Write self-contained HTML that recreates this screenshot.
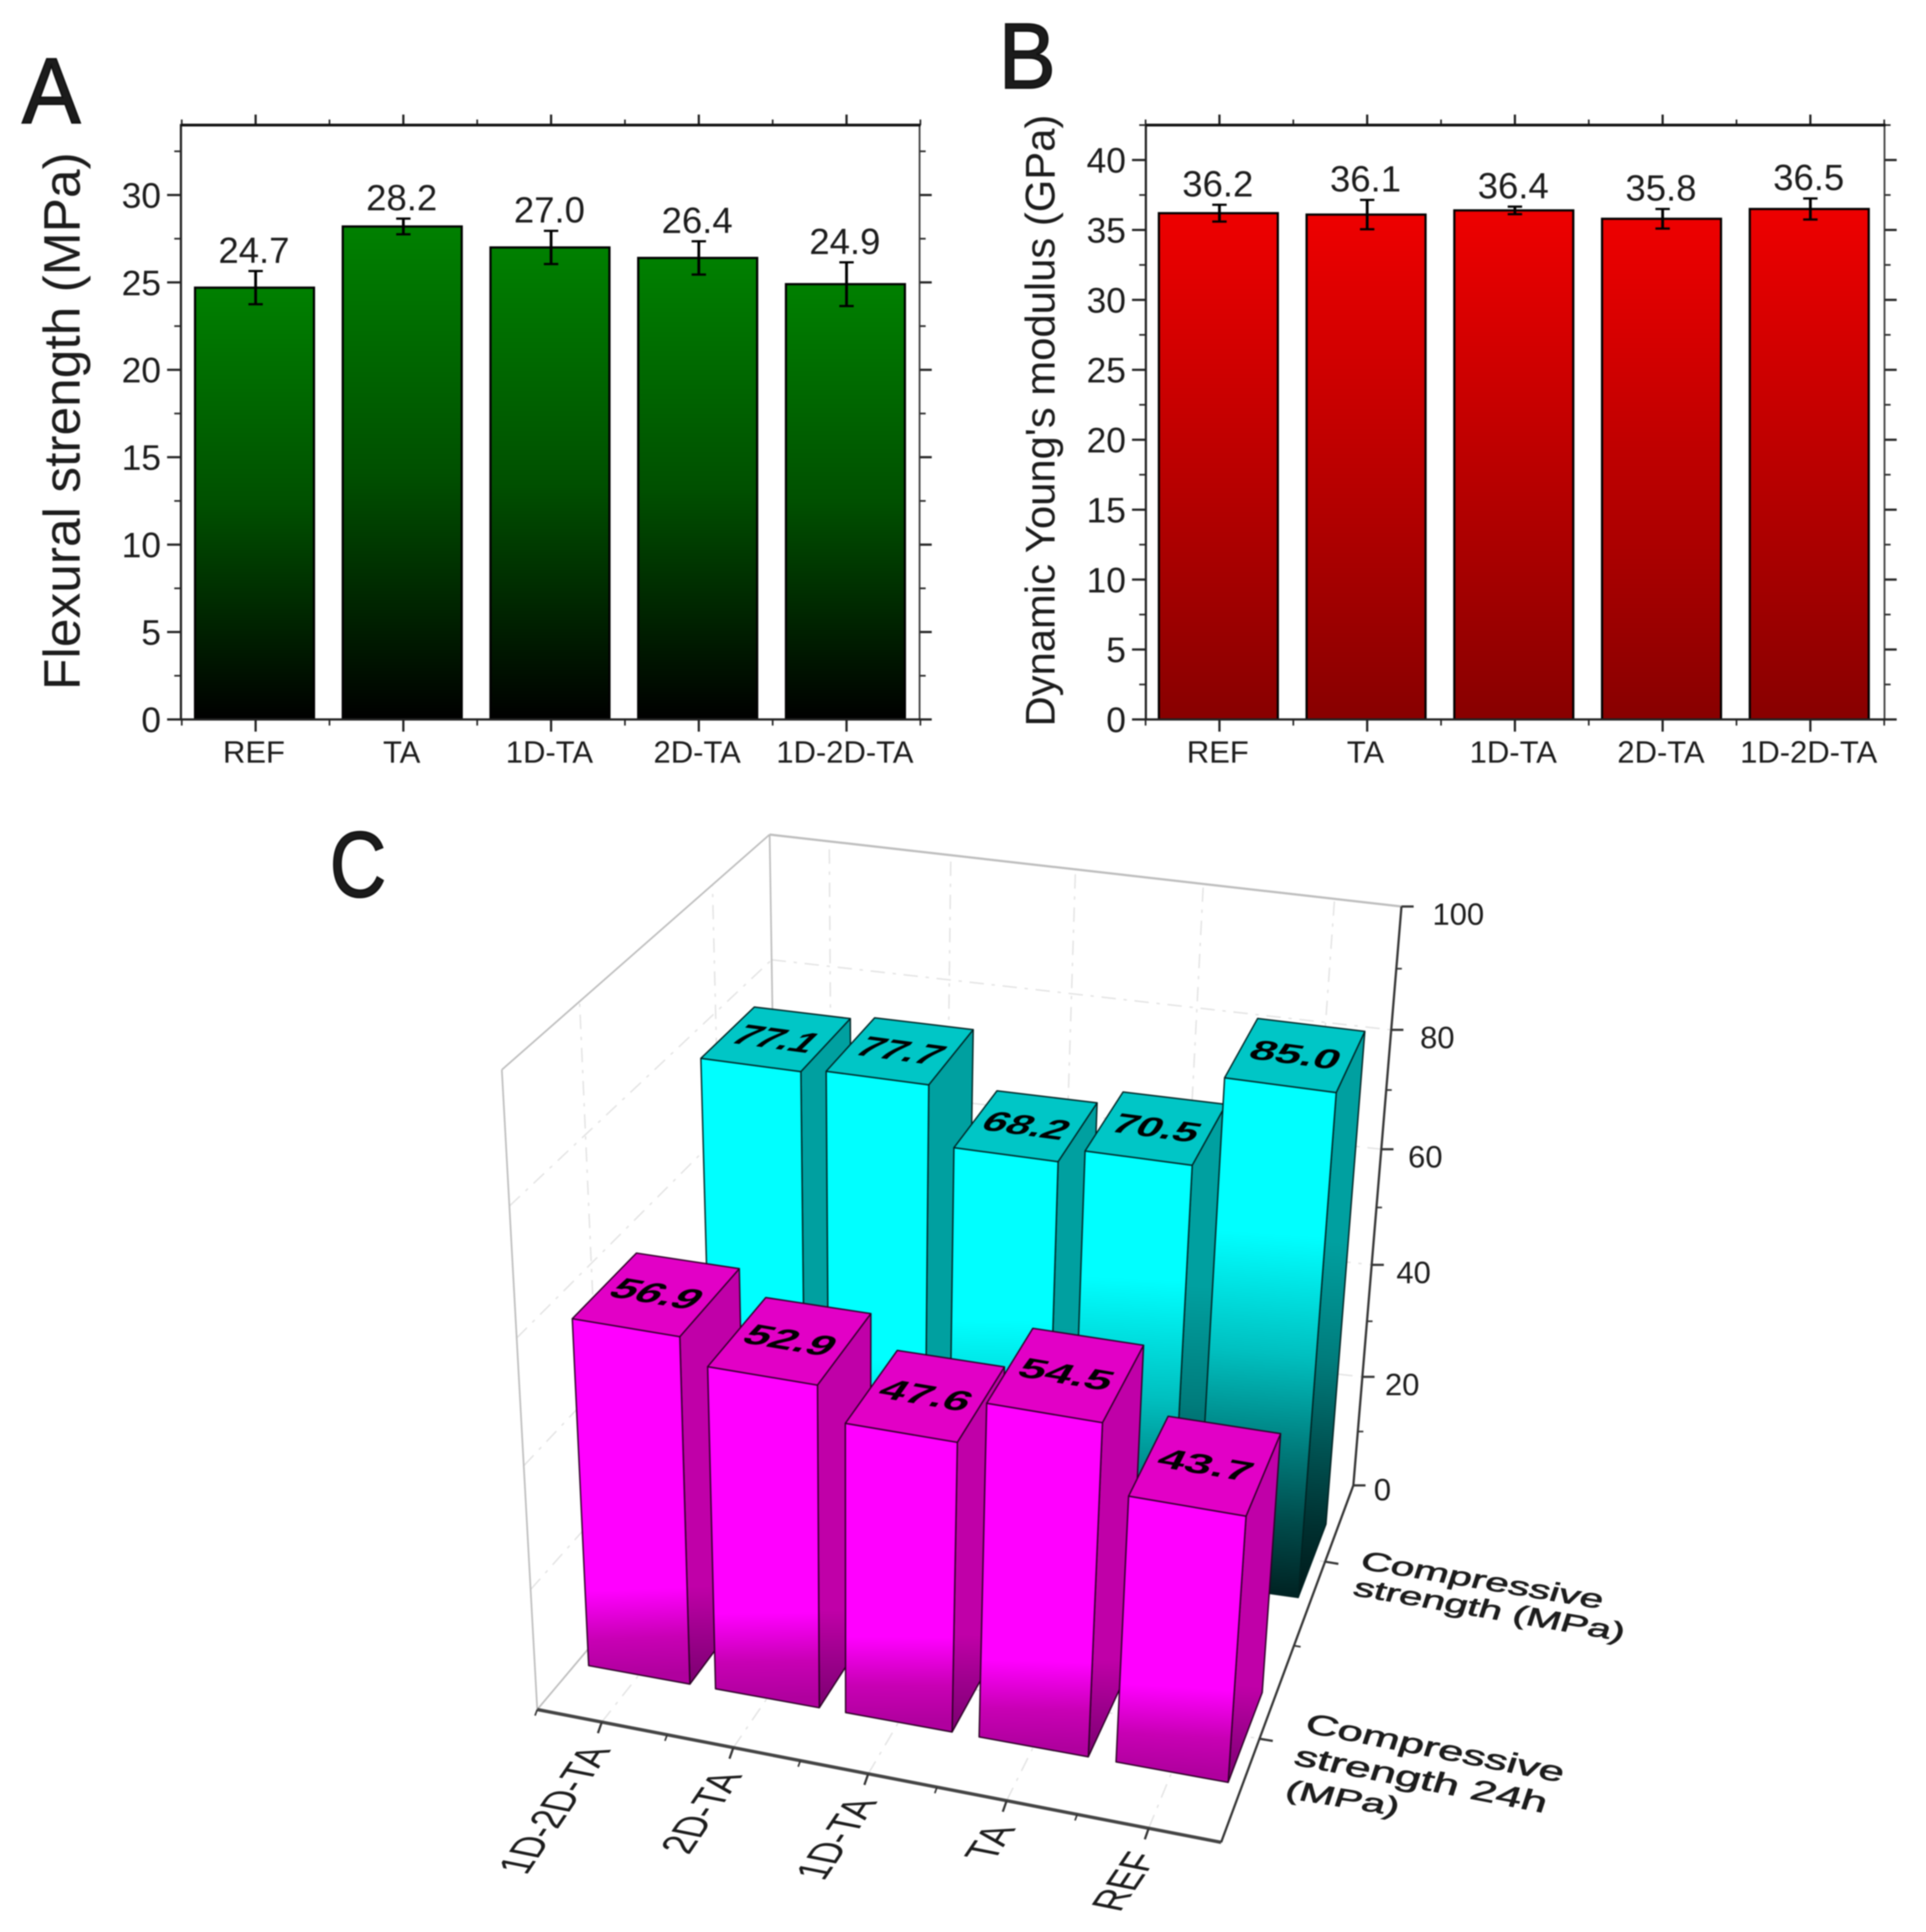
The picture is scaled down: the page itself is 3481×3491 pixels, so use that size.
<!DOCTYPE html>
<html lang="en">
<head>
<meta charset="utf-8">
<title>Flexural strength, dynamic modulus and compressive strength charts</title>
<style>
html,body{margin:0;padding:0;background:#fff;}
svg{display:block;filter:blur(1px);}
text{font-family:"Liberation Sans",sans-serif;fill:#1c1c1c;}
</style>
</head>
<body>
<svg id="figure" xmlns="http://www.w3.org/2000/svg" width="3481" height="3491" viewBox="0 0 3481 3491">
  <defs>
    <linearGradient id="green-grad" x1="0" y1="0" x2="0" y2="1">
      <stop offset="0" stop-color="#008000"/><stop offset="0.5" stop-color="#005000"/><stop offset="1" stop-color="#000000"/>
    </linearGradient>
    <linearGradient id="red-grad" x1="0" y1="0" x2="0" y2="1">
      <stop offset="0" stop-color="#ee0000"/><stop offset="1" stop-color="#880000"/>
    </linearGradient>
  </defs>
  <rect width="3481" height="3491" fill="#ffffff"/>
  <text transform="translate(40,222) scale(0.94,1)" font-size="168" stroke="#111" stroke-width="3">A</text>
  <text transform="translate(1805,159) scale(0.92,1)" font-size="168" stroke="#111" stroke-width="3">B</text>
  <text transform="translate(596,1620) scale(0.84,1)" font-size="168" stroke="#111" stroke-width="3">C</text>
  <g id="panel-a"></g>
  <g id="panel-b"></g>
  <g id="panel-c"></g>
</svg>
<script>
const categories = ['REF', 'TA', '1D-TA', '2D-TA', '1D-2D-TA'];
const flexuralValues = [24.7, 28.2, 27.0, 26.4, 24.9];
const flexuralErrors = [0.95, 0.45, 0.95, 0.95, 1.25];
const flexuralTicks = [0, 5, 10, 15, 20, 25, 30];
const modulusValues = [36.2, 36.1, 36.4, 35.8, 36.5];
const modulusErrors = [0.6, 1.05, 0.27, 0.7, 0.75];
const modulusTicks = [0, 5, 10, 15, 20, 25, 30, 35, 40];

const categories3d = ['1D-2D-TA', '2D-TA', '1D-TA', 'TA', 'REF'];
const compressive24h = [56.9, 52.9, 47.6, 54.5, 43.7];
const compressive = [77.1, 77.7, 68.2, 70.5, 85.0];
const zTicks = [0, 20, 40, 60, 80, 100];

const NS = 'http://www.w3.org/2000/svg';
function mk(tag, parent, attrs) {
  const e = document.createElementNS(NS, tag);
  for (const k in attrs) e.setAttribute(k, attrs[k]);
  parent.appendChild(e);
  return e;
}
function ln(parent, x1, y1, x2, y2, stroke, w, extra) {
  return mk('line', parent, Object.assign({x1, y1, x2, y2, stroke, 'stroke-width': w}, extra || {}));
}
function tx(parent, s, x, y, size, anchor, extra) {
  const e = mk('text', parent, Object.assign({x, y, 'font-size': size, 'text-anchor': anchor || 'start'}, extra || {}));
  e.textContent = s;
  return e;
}

/* ---------- 2D bar panels ---------- */
function drawPanel(cfg) {
  const g = document.getElementById(cfg.root);
  const yOf = v => cfg.bottom - (v / cfg.ymax) * (cfg.bottom - cfg.top);
  const xOf = i => cfg.x0 + cfg.step * i;

  cfg.categories.forEach((c, i) => {
    const cx = xOf(i) - 2;
    const bar = mk('rect', g, {x: cx - cfg.barW / 2, y: yOf(cfg.values[i]), width: cfg.barW, height: cfg.bottom - yOf(cfg.values[i]), fill: cfg.fill, stroke: '#000', 'stroke-width': 4});
    
    

    const hi = yOf(cfg.values[i] + cfg.errors[i]);
    const lo = yOf(cfg.values[i] - cfg.errors[i]);
    const stem = ln(g, xOf(i), hi, xOf(i), lo, '#000', 5);
    
    
    const capT = ln(g, xOf(i) - 13, hi, xOf(i) + 13, hi, '#000', 4);
    
    
    const capB = ln(g, xOf(i) - 13, lo, xOf(i) + 13, lo, '#000', 4);
    
    

    const vl = tx(g, cfg.values[i].toFixed(1), xOf(i) - 3, hi - 15, 66, 'middle');
    
    

    const cl = tx(g, c, xOf(i) - 3, 1378, 56, 'middle');
    
    

    const tb = ln(g, xOf(i), cfg.bottom, xOf(i), cfg.bottom + 22, '#222', 4);
    
    
    const tt = ln(g, xOf(i), cfg.top, xOf(i), cfg.top - 19, '#222', 4);
    
    
  });
  for (let i = -0.5; i <= cfg.categories.length - 0.5; i += 1) {
    const mb = ln(g, xOf(i), cfg.bottom, xOf(i), cfg.bottom + 11, '#222', 3);
    
    
    const mt = ln(g, xOf(i), cfg.top, xOf(i), cfg.top - 10, '#222', 3);
    
    
  }

  cfg.ticks.forEach(t => {
    const y = yOf(t);
    const l = ln(g, cfg.left - 25, y, cfg.left, y, '#222', 4);
    
    
    const r = ln(g, cfg.right, y, cfg.right + 22, y, '#222', 4);
    
    
    const lab = tx(g, String(t), cfg.left - 36, y + 23, 64, 'end');
    
    
    const half = t + (cfg.ticks[1] - cfg.ticks[0]) / 2;
    const ym = yOf(half);
    const ml = ln(g, cfg.left - 12, ym, cfg.left, ym, '#222', 3);
    
    
    const mr = ln(g, cfg.right, ym, cfg.right + 11, ym, '#222', 3);
    
    
  });

  const axL = ln(g, cfg.left, cfg.top - 2, cfg.left, cfg.bottom + 2, '#222', 4);
  
  
  const axR = ln(g, cfg.right, cfg.top - 2, cfg.right, cfg.bottom + 2, '#333', 3);
  
  
  const axT = ln(g, cfg.left, cfg.top, cfg.right + 2, cfg.top, '#111', 5);
  
  
  const axB = ln(g, cfg.left - 4, cfg.bottom, cfg.right + 18, cfg.bottom, '#222', 4);
  
  

  const ttl = tx(g, cfg.title, 0, 0, cfg.titleSize, 'middle', {transform: `translate(${cfg.titleX},${cfg.titleY}) rotate(-90)`});
  
  
}

drawPanel({root: 'panel-a', categories, values: flexuralValues, errors: flexuralErrors, ticks: flexuralTicks,
  left: 327, right: 1662, top: 226, bottom: 1300, ymax: 34, x0: 462, step: 267, barW: 215,
  fill: 'url(#green-grad)', title: 'Flexural strength (MPa)', titleSize: 93, titleX: 144, titleY: 761});
drawPanel({root: 'panel-b', categories, values: modulusValues, errors: modulusErrors, ticks: modulusTicks,
  left: 2071, right: 3406, top: 226, bottom: 1300, ymax: 42.5, x0: 2204, step: 267, barW: 215,
  fill: 'url(#red-grad)', title: "Dynamic Young's modulus (GPa)", titleSize: 75.5, titleX: 1906, titleY: 760});

/* ---------- 3D panel: box corners + perspective warps ---------- */
const box = {
  f0b: [971, 3089], f1b: [2207, 3329], b0b: [1408, 2570], b1b: [2446, 2684],
  f0t: [907, 1933], f1t: [2286, 2156], b0t: [1391, 1508], b1t: [2533, 1638]
};
const warpU = u => u / (1 + 0.066 * (1 - u));
const warpV = v => v / (1 - 0.185 * (1 - v));
const warpZ = z => z / (1 + 0.083 * (1 - z));
function lerp(a, b, t) { return [a[0] + (b[0] - a[0]) * t, a[1] + (b[1] - a[1]) * t]; }
/* u: 0 left..1 right, v: 0 front..1 back, val: 0..100 value axis */
function project(u, v, val) {
  const tu = warpU(u), tv = warpV(v), tz = warpZ(val / 100);
  const bot = lerp(lerp(box.f0b, box.f1b, tu), lerp(box.b0b, box.b1b, tu), tv);
  const top = lerp(lerp(box.f0t, box.f1t, tu), lerp(box.b0t, box.b1t, tu), tv);
  return lerp(bot, top, tz);
}
const pts = arr => arr.map(p => p[0].toFixed(1) + ',' + p[1].toFixed(1)).join(' ');

const g3 = document.getElementById('panel-c');
const defs = document.querySelector('#figure defs');

/* walls & grid */
const GRID = '#e2e2e2', WALL = '#bdbdbd';
function gridLine(a, b, name) {
  const e = ln(g3, a[0], a[1], b[0], b[1], GRID, 2.5, {'stroke-dasharray': '26 14 6 14'});
  
  
}
categories3d.forEach((c, i) => {
  const u = 0.1 + 0.2 * i;
  gridLine(project(u, 1, 0), project(u, 1, 100), 'back-wall-gridline-vertical');
  gridLine(project(u, 0, 0), project(u, 1, 0), 'floor-gridline-depth');
});
zTicks.slice(1, -1).forEach(t => {
  gridLine(project(0, 1, t), project(1, 1, t), 'back-wall-gridline-horizontal');
  gridLine(project(0, 0, t), project(0, 1, t), 'left-wall-gridline-horizontal');
});
[0.25, 0.75].forEach(v => {
  gridLine(project(0, v, 0), project(0, v, 100), 'left-wall-gridline-vertical');
  gridLine(project(0, v, 0), project(1, v, 0), 'floor-gridline-width');
});
function wall(a, b, w, name) {
  const e = ln(g3, a[0], a[1], b[0], b[1], WALL, w);
  
  
}
wall(box.f0b, box.f0t, 3, 'left-wall-front-edge');
wall(box.f0t, box.b0t, 3, 'left-wall-top-edge');
wall(box.b0t, box.b0b, 3, 'back-left-edge');
wall(box.b0t, box.b1t, 4, 'back-wall-top-edge');
wall(box.f0b, box.b0b, 3, 'floor-left-edge');

/* axes */
const AXIS = '#333';
const axX = ln(g3, box.f0b[0], box.f0b[1], box.f1b[0], box.f1b[1], '#444', 6);


const axD = ln(g3, box.f1b[0], box.f1b[1], box.b1b[0], box.b1b[1], AXIS, 4);


const axZ = ln(g3, box.b1b[0], box.b1b[1], box.b1t[0], box.b1t[1], AXIS, 4);



zTicks.forEach(t => {
  const p = project(1, 1, t);
  const k = ln(g3, p[0], p[1], p[0] + 22, p[1], AXIS, 4);
  
  
  const lab = tx(g3, String(t), p[0] + 37 + 19 * t / 100, p[1] + 33 - (t === 0 ? 6 : 0), 56, 'start');
  
  
  if (t < 100) {
    const m = project(1, 1, t + 10);
    const mk2 = ln(g3, m[0], m[1], m[0] + 10, m[1], AXIS, 3);
    
    
  }
});
categories3d.forEach((c, i) => {
  const p = project(0.1 + 0.2 * i, 0, 0);
  const k = ln(g3, p[0], p[1], p[0] - 7, p[1] + 20, AXIS, 4);
  
  
  const lab = tx(g3, c, 0, 0, 62, 'end', {transform: `matrix(0.56,-0.83,1.25,0.25,${p[0] + 17},${p[1] + 50})`});
  
  
  const q = project(0.2 * i, 0, 0);
  const mnr = ln(g3, q[0], q[1], q[0] - 4, q[1] + 11, AXIS, 3);
  
  
});
[0.25, 0.75].forEach(v => {
  const p = project(1, v, 0);
  const k = ln(g3, p[0], p[1], p[0] + 24, p[1] + 4, AXIS, 4);
  
  
});
const midDepth = project(1, 0.5, 0);
const midTick = ln(g3, midDepth[0], midDepth[1], midDepth[0] + 12, midDepth[1] + 2, AXIS, 3);



[['Compressive', 2456, 2834, 76, 0.165], ['strength (MPa)', 2443, 2882, 75, 0.168],
 ['Compressive', 2356, 3129, 81, 0.194], ['strength 24h', 2336, 3188, 83, 0.19], ['(MPa)', 2320, 3248, 76, 0.16]]
.forEach((s, i) => {
  const t = tx(g3, s[0], 0, 0, s[3], 'start', {transform: `matrix(0.985,${s[4]},-0.2,0.6,${s[1]},${s[2]})`, stroke: '#1c1c1c', 'stroke-width': 1.8});
  
  
});

/* bars */
function gradFor(id, a, b, val, shift, stops) {
  const lg = mk('linearGradient', defs, {id, gradientUnits: 'userSpaceOnUse', x1: a[0], y1: a[1], x2: b[0], y2: b[1]});
  stops.forEach(s => {
    mk('stop', lg, {offset: Math.max(0, Math.min(1, (s[0] - shift) / val)), 'stop-color': s[1]});
  });
  return 'url(#' + id + ')';
}
const cyanStyle = {
  front: [[0, '#002424'], [12, '#004c4c'], [25, '#008080'], [40, '#00c0c0'], [60, '#00ffff']],
  side: [[0, '#001818'], [12, '#003030'], [25, '#005252'], [40, '#007c7c'], [60, '#00a0a0']],
  top: '#00c6c6', edge: '#012222', lightDrift: 50
};
const magentaStyle = {
  front: [[0, '#b0009e'], [6, '#c800b4'], [14, '#ff00ff']],
  side: [[0, '#7c0070'], [8, '#9c008c'], [16, '#c000a8']],
  top: '#e200c6', edge: '#2a0024', lightDrift: 0
};
function drawRow(values, vCenter, style, rowName) {
  values.forEach((val, i) => {
    const c = categories3d[i].toLowerCase();
    const uc = 0.1 + 0.2 * i, u0 = uc - 0.08, u1 = uc + 0.08;
    const v0 = vCenter - 0.115, v1 = vCenter + 0.115;
    const shift = style.lightDrift * (0.9 - uc);
    const bar = mk('g', g3, {});
    
    

    const sideFace = mk('polygon', bar, {
      points: pts([project(u1, v0, 0), project(u1, v1, 0), project(u1, v1, val), project(u1, v0, val)]),
      fill: gradFor('s-' + rowName + i, project(u1, v0, 0), project(u1, v0, val), val, shift, style.side),
      stroke: style.edge, 'stroke-width': 2.5, 'stroke-linejoin': 'round'});
    
    

    const frontFace = mk('polygon', bar, {
      points: pts([project(u0, v0, 0), project(u1, v0, 0), project(u1, v0, val), project(u0, v0, val)]),
      fill: gradFor('f-' + rowName + i, project(uc, v0, 0), project(uc, v0, val), val, shift, style.front),
      stroke: style.edge, 'stroke-width': 2.5, 'stroke-linejoin': 'round'});
    
    

    const a = project(u0, v0, val), b = project(u1, v0, val), d = project(u0, v1, val);
    const topFace = mk('polygon', bar, {
      points: pts([a, b, project(u1, v1, val), d]),
      fill: style.top, stroke: style.edge, 'stroke-width': 2.5, 'stroke-linejoin': 'round'});
    
    

    const ctr = project(uc, vCenter, val);
    const ex = b[0] - a[0], ey = b[1] - a[1], el = Math.hypot(ex, ey);
    const fs = 70, sx = el * 0.79 / (1.946 * fs);
    const dy = a[1] - d[1], yy = 0.68, yx = (a[0] - d[0]) / dy * yy;
    const lx = ctr[0], ly = ctr[1];
    const label = tx(bar, val.toFixed(1), 0, fs * 0.358, fs, 'middle', {
      transform: `matrix(${(ex / el * sx).toFixed(4)},${(ey / el * sx).toFixed(4)},${yx.toFixed(4)},${yy},${lx.toFixed(1)},${ly.toFixed(1)})`,
      'font-weight': 'bold', style: 'fill:#000'});
    
    
  });
}
drawRow(compressive, 0.75, cyanStyle, 'compressive');
drawRow(compressive24h, 0.25, magentaStyle, 'compressive-24h');
</script>
</body>
</html>
